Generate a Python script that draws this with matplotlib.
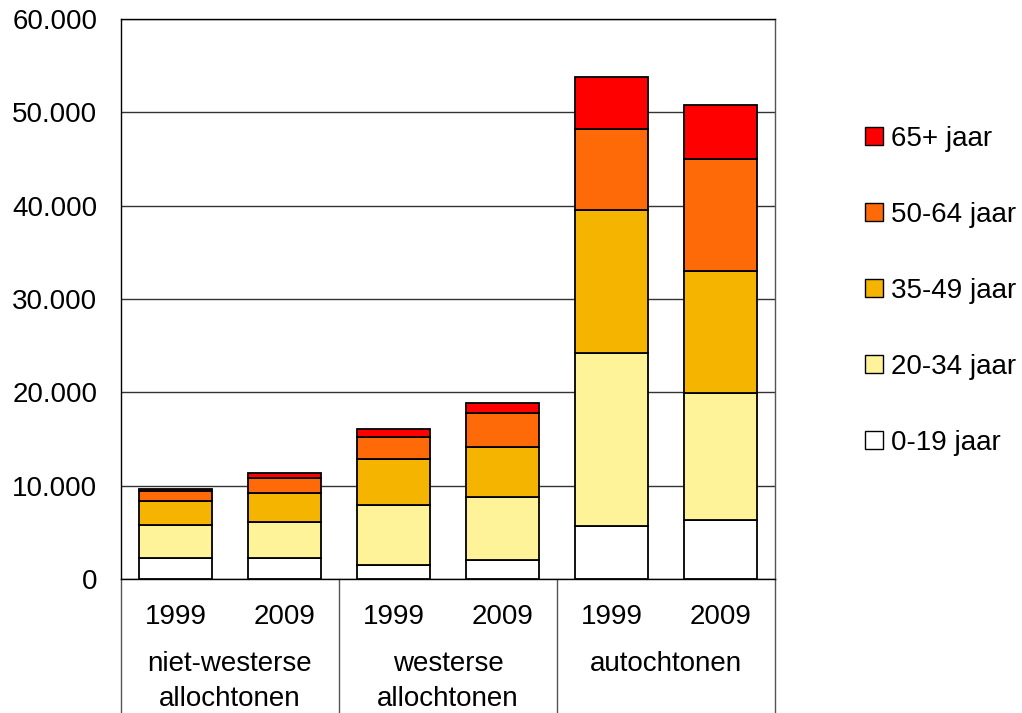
import matplotlib.pyplot as plt
from matplotlib.ticker import FuncFormatter
from matplotlib.patches import Patch
import numpy as np

plt.rcParams['font.family'] = ['Liberation Sans', 'DejaVu Sans']

# Data (persons)
groups = ["niet-westerse\nallochtonen", "westerse\nallochtonen", "autochtonen"]
years = ["1999", "2009"]
age_classes = ["0-19 jaar", "20-34 jaar", "35-49 jaar", "50-64 jaar", "65+ jaar"]

age_0_19 = [2270, 2270, 1510, 1980, 5660, 6270]
age_20_34 = [3560, 3810, 6440, 6830, 18530, 13620]
age_35_49 = [2550, 3170, 4950, 5380, 15340, 13120]
age_50_64 = [1040, 1570, 2260, 3550, 8710, 11970]
age_65_plus = [260, 580, 940, 1150, 5520, 5810]

colors = ["#FFFFFF", "#FFF39A", "#F5B400", "#FF6A08", "#FF0000"]

series = [age_0_19, age_20_34, age_35_49, age_50_64, age_65_plus]

fig = plt.figure(figsize=(10.22, 7.13), dpi=100)
ax = fig.add_axes([0.1184, 0.188, 0.6399, 0.7854])

x = np.arange(len(groups) * len(years))
bottom = np.zeros(len(x))
for values, color, label in zip(series, colors, age_classes):
    ax.bar(x, values, width=0.67, bottom=bottom, color=color,
           edgecolor="black", linewidth=1.3, label=label, zorder=3)
    bottom += np.array(values)

ax.set_xlim(-0.5, len(x) - 0.5)
ax.set_ylim(0, 60000)
ax.set_yticks(range(0, 60001, 10000))
ax.yaxis.set_major_formatter(FuncFormatter(lambda v, p: f"{int(v):,}".replace(",", ".")))
ax.grid(axis="y", color="#333333", linewidth=1, zorder=0)

ax.set_xticks(x)
ax.set_xticklabels(years * len(groups))
ax.tick_params(axis="both", length=0, labelsize=20)
ax.tick_params(axis="y", pad=17)
ax.tick_params(axis="x", pad=18)

for side in ["top", "right", "bottom", "left"]:
    ax.spines[side].set_color("black")
    ax.spines[side].set_linewidth(1)
ax.spines["right"].set_color("#555555")

# Group labels and separators under the axis
trans = ax.get_xaxis_transform()
for i, name in enumerate(groups):
    ax.text(2 * i + 0.5, -0.129, name, transform=trans, ha="center", va="top",
            fontsize=20, linespacing=1.42)
for b in range(len(groups) + 1):
    ax.plot([2 * b - 0.5, 2 * b - 0.5], [0, -0.24], transform=trans,
            color="#555555", linewidth=1, clip_on=False)

# Legend, top entry is 65+
handles = [Patch(facecolor=c, edgecolor="black", linewidth=1) for c in colors]
ax.legend(handles[::-1], age_classes[::-1], loc="upper left",
          bbox_to_anchor=(1.121, 0.829), frameon=False, fontsize=20,
          handlelength=0.65, handleheight=0.65, handletextpad=0.29,
          labelspacing=1.8, borderaxespad=0)

plt.savefig("out.png", dpi=100)
